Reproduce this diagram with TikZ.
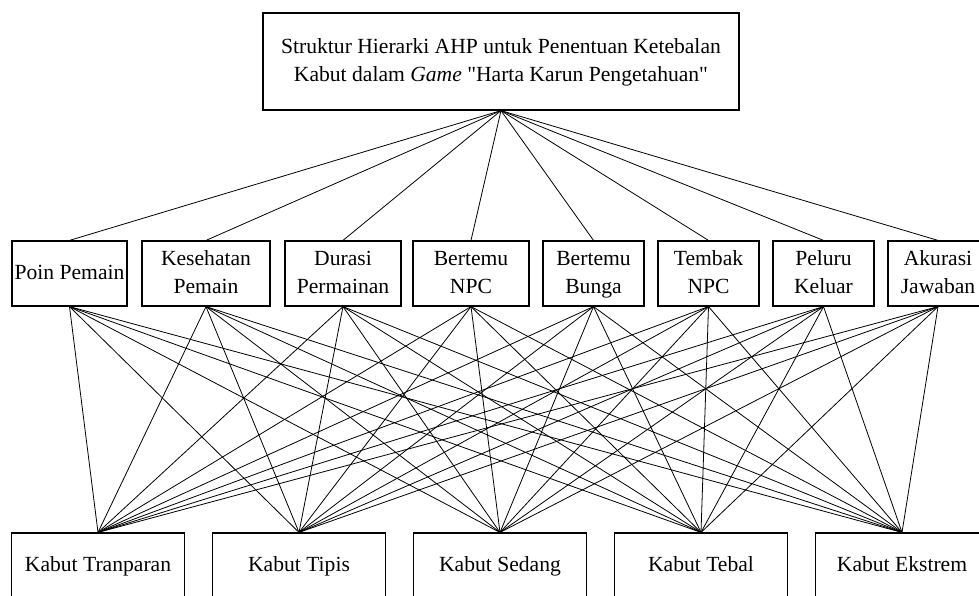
\documentclass[tikz,border=0pt]{standalone}
\usepackage{fontspec}
\setmainfont{Liberation Serif}
\usepackage{tikz}
\tikzstyle{hierarchy} = [x = 0.5pt, y = -0.5pt, every node/.style={font=\fontsize{10.8}{14}\selectfont}]
\tikzstyle{boxStyle} = [draw, line width = .6pt, align=center, inner sep = 0pt]
\tikzstyle{goalBox} = [boxStyle, minimum width = 238pt, minimum height = 48.5pt]
\tikzstyle{criterionBox} = [boxStyle, minimum height = 32.5pt]
\tikzstyle{alternativeBox} = [boxStyle, minimum width = 86.5pt, minimum height = 32.5pt]
\tikzstyle{linkLine} = [line width = .4pt]
\newcommand{\criterion}[4]{\node [criterionBox, minimum width = #3] (#1) at (#2, 273.5) {\strut#4\strut};}
\newcommand{\alternative}[3]{\node [alternativeBox] (#1) at (#2, 565.5) {\strut#3\strut};}

\begin{document}
\begin{tikzpicture}[hierarchy]
        \clip (0,0) rectangle (979,595);
        \node [goalBox] (goal) at (501, 61.5) {\strut Struktur Hierarki AHP untuk Penentuan Ketebalan\\Kabut dalam \textit{Game} \textquotedbl Harta Karun Pengetahuan\textquotedbl\strut};

        \criterion{poin}{69.5}{57.5pt}{Poin Pemain}
        \criterion{kesehatan}{206}{64pt}{Kesehatan\\Pemain}
        \criterion{durasi}{343}{58pt}{Durasi\\Permainan}
        \criterion{npc}{471}{58pt}{Bertemu\\NPC}
        \criterion{bunga}{593.5}{50.5pt}{Bertemu\\Bunga}
        \criterion{tembak}{708.5}{50.5pt}{Tembak\\NPC}
        \criterion{peluru}{823.5}{50.5pt}{Peluru\\Keluar}
        \criterion{akurasi}{938}{50pt}{Akurasi\\Jawaban}

        \alternative{tranparan}{98}{Kabut Tranparan}
        \alternative{tipis}{299}{Kabut Tipis}
        \alternative{sedang}{500}{Kabut Sedang}
        \alternative{tebal}{701}{Kabut Tebal}
        \alternative{ekstrem}{902}{Kabut Ekstrem}

        \foreach \crit in {poin, kesehatan, durasi, npc, bunga, tembak, peluru, akurasi} {
          \draw [linkLine] (goal.south) -- (\crit.north);
          \foreach \alt in {tranparan, tipis, sedang, tebal, ekstrem} {
            \draw [linkLine] (\crit.south) -- (\alt.north);
          }
        }
      \end{tikzpicture}
\end{document}
